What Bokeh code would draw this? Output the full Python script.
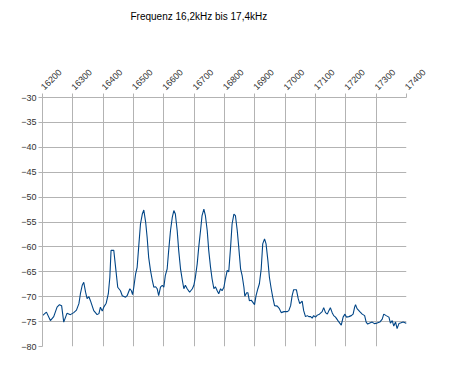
import math
from bokeh.plotting import figure
from bokeh.models import Range1d, FixedTicker
from bokeh.embed import file_html
from bokeh.resources import INLINE

title_text = "Frequenz 16,2kHz bis 17,4kHz"
x_ticks = [16200, 16300, 16400, 16500, 16600, 16700, 16800, 16900, 17000, 17100, 17200, 17300, 17400]
y_ticks = [-80, -75, -70, -65, -60, -55, -50, -45, -40, -35, -30]

freq = [16200, 16213, 16226, 16237, 16248, 16256, 16263, 16270, 16281, 16292, 16303, 16312, 16320,
        16325, 16331, 16336, 16342, 16347, 16353, 16358, 16369, 16380, 16386, 16391, 16397, 16402,
        16410, 16417, 16422, 16426, 16435, 16441, 16448, 16457, 16463, 16474, 16479, 16488, 16493,
        16497, 16501, 16507, 16512, 16517, 16523, 16529, 16534, 16540, 16545, 16550, 16556, 16562,
        16567, 16573, 16578, 16583, 16589, 16595, 16600, 16605, 16611, 16616, 16622, 16628, 16633,
        16638, 16644, 16649, 16655, 16661, 16666, 16671, 16677, 16685, 16694, 16699, 16704, 16710,
        16715, 16721, 16726, 16732, 16737, 16743, 16748, 16754, 16759, 16765, 16770, 16776, 16781,
        16787, 16792, 16798, 16803, 16809, 16814, 16820, 16825, 16831, 16836, 16842, 16847, 16853,
        16858, 16864, 16867, 16873, 16877, 16882, 16888, 16893, 16899, 16904, 16910, 16915, 16921,
        16926, 16932, 16937, 16943, 16948, 16954, 16959, 16965, 16974, 16981, 16987, 16996, 17007,
        17012, 17018, 17023, 17028, 17037, 17043, 17048, 17056, 17061, 17067, 17073, 17078, 17084,
        17089, 17094, 17100, 17106, 17113, 17122, 17127, 17133, 17139, 17144, 17149, 17155, 17160,
        17166, 17174, 17180, 17185, 17191, 17197, 17202, 17210, 17218, 17224, 17229, 17232, 17237,
        17246, 17254, 17262, 17267, 17272, 17279, 17287, 17294, 17303, 17312, 17320, 17325, 17333,
        17342, 17347, 17353, 17358, 17364, 17369, 17375, 17380, 17389, 17397, 17400]

level_db = [-73.8, -73.1, -74.8, -74.0, -72.1, -71.6, -71.8, -75.1, -73.3, -73.6, -73.2, -72.7, -71.4,
            -69.4, -67.7, -67.1, -69.1, -70.4, -70.0, -70.8, -72.8, -73.6, -73.4, -72.1, -72.9, -72.1,
            -71.3, -69.4, -66.1, -60.7, -60.7, -64.1, -68.1, -68.8, -69.8, -70.1, -69.8, -68.4, -68.8,
            -69.6, -68.1, -65.4, -64.1, -60.1, -55.4, -53.4, -52.6, -55.0, -58.1, -62.1, -64.7, -66.7,
            -68.1, -68.0, -68.4, -69.8, -68.1, -67.7, -68.1, -65.7, -64.4, -60.7, -56.7, -54.0, -52.7,
            -53.4, -56.7, -60.7, -64.4, -66.7, -68.4, -67.7, -68.4, -69.1, -68.4, -67.7, -66.1, -63.4,
            -60.1, -56.7, -53.7, -52.4, -53.7, -56.7, -60.7, -64.1, -66.4, -68.4, -68.0, -68.8, -69.4,
            -68.4, -68.8, -68.1, -66.4, -64.7, -65.0, -60.1, -55.4, -53.4, -53.7, -56.7, -60.1, -64.4,
            -65.7, -68.1, -69.9, -69.2, -69.2, -70.8, -70.7, -71.1, -71.6, -69.8, -68.4, -67.4, -64.4,
            -59.4, -58.4, -59.4, -62.7, -66.1, -68.4, -70.1, -71.8, -71.9, -72.4, -73.2, -73.0, -73.0,
            -72.8, -71.8, -69.8, -68.6, -68.6, -70.4, -71.4, -70.9, -72.8, -74.0, -73.8, -74.0, -74.0,
            -74.3, -73.8, -74.1, -73.7, -73.5, -73.0, -72.2, -73.2, -73.5, -72.8, -72.2, -73.2, -73.8,
            -74.1, -74.8, -75.3, -75.7, -74.1, -73.5, -74.1, -74.0, -73.8, -73.5, -72.1, -71.6, -72.4,
            -73.0, -73.5, -73.8, -75.1, -75.5, -75.3, -75.1, -75.4, -75.3, -75.1, -74.5, -73.5, -73.8,
            -74.1, -75.3, -74.8, -75.9, -75.1, -76.4, -75.4, -75.3, -75.1, -75.3, -75.3]

GRID = "#b3b3b3"
FONT = "Liberation Sans"

p = figure(width=444, height=375, output_backend="svg", toolbar_location=None,
           x_axis_location="above",
           x_range=Range1d(x_ticks[0], x_ticks[-1]), y_range=Range1d(y_ticks[0], y_ticks[-1]),
           min_border_left=42, min_border_right=38, min_border_top=97, min_border_bottom=29)

p.title.text = title_text
p.title.align = "left"
p.title.offset = 88
p.title.standoff = 10
p.title.text_font = FONT
p.title.text_font_size = "10px"
p.title.text_font_style = "normal"
p.title.text_color = "#000000"

p.outline_line_color = None
p.background_fill_color = "white"
p.border_fill_color = "white"

p.line(freq, level_db, line_color="#004586", line_width=1.1)

p.xaxis.ticker = FixedTicker(ticks=x_ticks)
p.yaxis.ticker = FixedTicker(ticks=y_ticks)
p.xgrid.ticker = FixedTicker(ticks=x_ticks)
p.ygrid.ticker = FixedTicker(ticks=y_ticks)
for ax in (p.xaxis, p.yaxis):
    ax.axis_line_color = GRID
    ax.major_tick_line_color = GRID
    ax.major_tick_in = 0
    ax.major_tick_out = 4
    ax.minor_tick_line_color = None
    ax.major_label_text_font = FONT
    ax.major_label_text_font_size = "9px"
    ax.major_label_text_color = "#333333"
p.xaxis.major_label_orientation = math.pi / 4
p.xaxis.major_label_standoff = 5
p.yaxis.major_label_standoff = 2
# blank axis label used only as vertical spacing between tick labels and title
p.xaxis.axis_label = " "
p.xaxis.axis_label_text_font_size = "10px"
p.xaxis.axis_label_standoff = 23
for g in (p.xgrid, p.ygrid):
    g.grid_line_color = GRID
    g.grid_line_width = 1
    g.grid_line_alpha = 1.0

open("out.html", "w").write(file_html(p, INLINE))
